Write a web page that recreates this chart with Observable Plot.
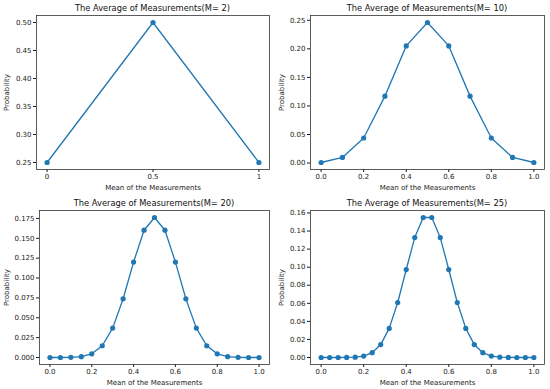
<!DOCTYPE html>
<html>
<head>
<meta charset="utf-8">
<script src="https://cdn.jsdelivr.net/npm/d3@7"></script>
<script src="https://cdn.jsdelivr.net/npm/@observablehq/plot@0.6"></script>
<style>
  html, body { margin: 0; padding: 0; background: #fff; }
  #wrap { position: relative; width: 550px; height: 389px; overflow: hidden; font-family: "DejaVu Sans", sans-serif; }
  .panel { position: absolute; }
  .title { position: absolute; font-size: 8.3px; color: #111; text-align: center; white-space: nowrap; transform: translateX(-50%); }
</style>
</head>
<body>
<div id="wrap"></div>
<script>
// ---- data ----
const titles = ["The Average of Measurements(M= 2)", "The Average of Measurements(M= 10)", "The Average of Measurements(M= 20)", "The Average of Measurements(M= 25)"];

const x2 = [0, 0.5, 1];
const y2 = [0.25, 0.5, 0.25];

const x10 = [0, 0.1, 0.2, 0.3, 0.4, 0.5, 0.6, 0.7, 0.8, 0.9, 1.0];
const y10 = [0.001, 0.0098, 0.0439, 0.1172, 0.2051, 0.2461, 0.2051, 0.1172, 0.0439, 0.0098, 0.001];

const x20 = [0, 0.05, 0.1, 0.15, 0.2, 0.25, 0.3, 0.35, 0.4, 0.45, 0.5, 0.55, 0.6, 0.65, 0.7, 0.75, 0.8, 0.85, 0.9, 0.95, 1.0];
const y20 = [0.000001, 0.00002, 0.0002, 0.0011, 0.0046, 0.0148, 0.037, 0.0739, 0.1201, 0.1602, 0.1762, 0.1602, 0.1201, 0.0739, 0.037, 0.0148, 0.0046, 0.0011, 0.0002, 0.00002, 0.000001];

const x25 = [0, 0.04, 0.08, 0.12, 0.16, 0.2, 0.24, 0.28, 0.32, 0.36, 0.4, 0.44, 0.48, 0.52, 0.56, 0.6, 0.64, 0.68, 0.72, 0.76, 0.8, 0.84, 0.88, 0.92, 0.96, 1.0];
const y25 = [0.0000001, 0.0000008, 0.000009, 0.00007, 0.0004, 0.0016, 0.0053, 0.0143, 0.0322, 0.0609, 0.0974, 0.1328, 0.155, 0.155, 0.1328, 0.0974, 0.0609, 0.0322, 0.0143, 0.0053, 0.0016, 0.0004, 0.00007, 0.000009, 0.0000008, 0.0000001];

const xTicks2 = [0, 0.5, 1];
const xTicksStd = [0, 0.2, 0.4, 0.6, 0.8, 1.0];
const yTicks2 = [0.25, 0.30, 0.35, 0.40, 0.45, 0.50];
const yTicks10 = [0, 0.05, 0.10, 0.15, 0.20, 0.25];
const yTicks20 = [0, 0.025, 0.05, 0.075, 0.1, 0.125, 0.15, 0.175];
const yTicks25 = [0, 0.02, 0.04, 0.06, 0.08, 0.10, 0.12, 0.14, 0.16];

const xLabel = "Mean of the Measurements";
const yLabel = "Probability";

// ---- layout ----
const panels = [
  {xs: x2, ys: y2, xt: xTicks2, xf: d3.format(""), yt: yTicks2, yf: d3.format(".2f"), left: 0, top: 0, h: 195, ml: 36, mb: 26},
  {xs: x10, ys: y10, xt: xTicksStd, xf: d3.format(".1f"), yt: yTicks10, yf: d3.format(".2f"), left: 275, top: 0, h: 195, ml: 35, mb: 26},
  {xs: x20, ys: y20, xt: xTicksStd, xf: d3.format(".1f"), yt: yTicks20, yf: d3.format(".3f"), left: 0, top: 195, h: 194, ml: 39, mb: 25},
  {xs: x25, ys: y25, xt: xTicksStd, xf: d3.format(".1f"), yt: yTicks25, yf: d3.format(".2f"), left: 275, top: 195, h: 194, ml: 35, mb: 25}
];

const wrap = document.getElementById("wrap");
const W = 275, MR = 6, MT = 15;
const blue = "#1f77b4";

panels.forEach((p, i) => {
  const data = p.xs.map((x, k) => ({x, y: p.ys[k]}));
  const ymin = d3.min(p.ys), ymax = d3.max(p.ys);
  const pad = (ymax - ymin) * 0.05;
  const chart = Plot.plot({
    width: W, height: p.h,
    marginLeft: p.ml, marginRight: MR, marginTop: MT, marginBottom: p.mb,
    style: {fontFamily: "DejaVu Sans", fontSize: "7px", background: "transparent", color: "#1a1a1a", overflow: "visible"},
    x: {domain: [-0.05, 1.05]},
    y: {domain: [ymin - pad, ymax + pad]},
    marks: [
      Plot.axisX({ticks: p.xt, tickFormat: p.xf, tickSize: 3, tickPadding: 2, label: xLabel, labelAnchor: "center", labelOffset: 20, labelArrow: "none"}),
      Plot.axisY({ticks: p.yt, tickFormat: p.yf, tickSize: 3, tickPadding: 2, label: yLabel, labelAnchor: "center", labelOffset: p.ml - 4, labelArrow: "none"}),
      Plot.line(data, {x: "x", y: "y", stroke: blue, strokeWidth: 1.3}),
      Plot.dot(data, {x: "x", y: "y", r: 2.6, fill: blue, stroke: "none"}),
      Plot.frame({stroke: "#333", strokeWidth: 0.8})
    ]
  });
  chart.classList.add("panel");
  chart.style.left = p.left + "px";
  chart.style.top = p.top + "px";
  wrap.appendChild(chart);

  const t = document.createElement("div");
  t.className = "title";
  t.textContent = titles[i];
  t.style.left = (p.left + p.ml + (W - p.ml - MR) / 2) + "px";
  t.style.top = (p.top + 3) + "px";
  wrap.appendChild(t);
});
</script>
</body>
</html>
